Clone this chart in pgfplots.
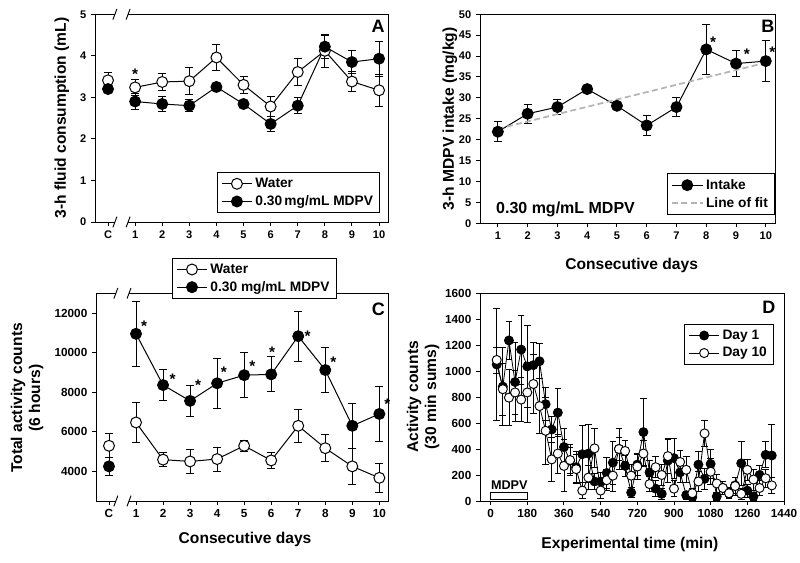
\documentclass[border=0pt]{standalone}
\usepackage{pgfplots}
\pgfplotsset{compat=1.18}
\usepackage{pgfplotstable}
\usepackage{fontspec}
\setmainfont{Liberation Sans}

\pgfplotstableread{
x y e
0 3.41 0.20
}\Awaterc
\pgfplotstableread{
x y e
1 3.24 0.20
2 3.37 0.21
3 3.39 0.32
4 3.96 0.32
5 3.30 0.20
6 2.78 0.24
7 3.61 0.33
8 4.12 0.40
9 3.38 0.25
10 3.17 0.39
}\Awater
\pgfplotstableread{
x y e
0 3.20 0.08
}\Amdpvc
\pgfplotstableread{
x y e
1 2.90 0.20
2 2.84 0.19
3 2.80 0.14
4 3.25 0.05
5 2.84 0.05
6 2.36 0.19
7 2.80 0.19
8 4.22 0.28
9 3.85 0.27
10 3.93 0.42
}\Amdpv
\pgfplotstableread{
x y e
1 21.9 2.4
2 26.2 2.3
3 27.8 1.8
4 32.1 0.5
5 28.1 0.5
6 23.4 2.3
7 27.8 2.3
8 41.6 6.0
9 38.2 3.1
10 38.8 4.9
}\Bintake
\pgfplotstableread{
x y
1 22.6
10 38.4
}\Bfit
\pgfplotstableread{
x y e
0 5290 600
}\Cwaterc
\pgfplotstableread{
x y e
1 6470 1000
2 4590 340
3 4500 620
4 4620 610
5 5290 270
6 4550 420
7 6300 840
8 5170 670
9 4250 920
10 3670 720
}\Cwater
\pgfplotstableread{
x y e
0 4250 450
}\Cmdpvc
\pgfplotstableread{
x y e
1 10950 1640
2 8360 800
3 7560 770
4 8450 1260
5 8860 1130
6 8900 880
7 10830 1270
8 9120 1140
9 6300 1140
10 6900 1370
}\Cmdpv
\pgfplotstableread{
x y e
30 1050 430
60 880 300
90 1235 145
120 915 305
150 1165 265
180 1035 315
210 1045 175
240 1075 135
270 745 125
300 550 100
330 680 185
360 415 140
390 310 100
420 260 120
450 360 220
480 365 225
510 150 60
540 150 70
570 215 120
600 295 165
630 400 160
660 270 80
690 65 40
720 280 80
750 530 260
780 220 90
810 95 60
840 55 40
870 310 170
900 330 155
930 220 80
960 45 30
990 30 25
1020 280 100
1050 170 80
1080 285 115
1110 35 30
1140 100 50
1170 65 40
1200 120 60
1230 290 170
1260 80 50
1290 35 30
1320 200 70
1350 355 100
1380 350 240
}\Dday
\pgfplotstableread{
x y e
30 1085 100
60 860 200
90 795 215
120 835 170
150 780 170
180 835 230
210 900 230
240 730 210
270 540 260
300 320 170
330 365 150
360 270 200
390 315 120
420 245 110
450 80 60
480 180 90
510 405 150
540 80 60
570 160 80
600 195 120
630 400 90
660 385 80
690 195 90
720 265 100
750 365 100
780 130 60
810 260 80
840 200 80
870 345 130
900 95 60
930 300 90
960 240 100
990 60 40
1020 150 80
1050 520 100
1080 225 100
1110 135 70
1140 100 50
1170 60 40
1200 115 70
1230 55 40
1260 240 80
1290 165 80
1320 100 60
1350 175 70
1380 120 60
}\Dten

\pgfplotsset{
  panel/.style={
    scale only axis, anchor=south west, clip=false,
    axis line style={line width=0.7pt},
    tick align=outside, tick pos=left,
    major tick length=3pt,
    tick style={line width=0.7pt, black},
    tick label style={font=\fontsize{8.3}{9.5}\selectfont\bfseries},
    /pgf/number format/assume math mode=true,
    /pgf/number format/1000 sep={},
    scaled y ticks=false, scaled x ticks=false,
    label style={font=\fontsize{11.7}{13.5}\selectfont\bfseries},
    legend style={font=\fontsize{10.3}{12}\selectfont\bfseries, draw=black, line width=0.7pt,
      inner xsep=3pt, inner ysep=2pt, row sep=0.5pt},
    legend cell align=left,
    legend image code/.code={\draw[mark repeat=2,mark phase=2,##1] plot coordinates {(0pt,0pt) (11.5pt,0pt) (23pt,0pt)};},
    error bars/error bar style={line width=0.7pt, black, solid},
    error bars/error mark options={rotate=90, mark size=3pt, line width=0.7pt, black},
  },
  bigticks/.style={tick label style={font=\fontsize{8.8}{10}\selectfont\bfseries}},
  openm/.style={black, line width=0.75pt, mark=*, mark size=4.1pt, mark options={fill=white, draw=black, solid, line width=0.75pt}},
  fillm/.style={black, line width=0.75pt, mark=*, mark size=4.1pt, mark options={fill=black, draw=black, solid}},
}
\newcommand{\brk}{%
  \draw[white, line width=2pt] (rel axis cs:0.068,0) -- (rel axis cs:0.113,0);
  \draw[white, line width=2pt] (rel axis cs:0.068,1) -- (rel axis cs:0.113,1);
  \draw[line width=0.7pt] (rel axis cs:0.068,0) ++(-1.5pt,-4pt) -- ++(3pt,8pt);
  \draw[line width=0.7pt] (rel axis cs:0.113,0) ++(-1.5pt,-4pt) -- ++(3pt,8pt);
  \draw[line width=0.7pt] (rel axis cs:0.068,1) ++(-1.5pt,-4pt) -- ++(3pt,8pt);
  \draw[line width=0.7pt] (rel axis cs:0.113,1) ++(-1.5pt,-4pt) -- ++(3pt,8pt);
}
\newcommand{\st}{\fontsize{11.5}{12}\selectfont\bfseries}
\newcommand{\letter}{\fontsize{13.5}{14}\selectfont\bfseries}

\begin{document}
\begin{tikzpicture}
\useasboundingbox (0,0) rectangle (600pt,422.25pt);

% ---------------- A
\begin{axis}[panel, at={(71.25pt,255.75pt)}, width=219.75pt, height=155.8pt,
  xmin=-0.48, xmax=10.33, ymin=0, ymax=5,
  xtick={0,...,10}, xticklabels={C,1,2,3,4,5,6,7,8,9,10}, ytick={0,...,5},
  ylabel={3-h fluid consumption (mL)},
  ylabel style={at={(axis description cs:-0.113,0.5)}, anchor=center},
  legend style={at={(0.973,0.042)}, anchor=south east}]
\addplot[openm, forget plot, error bars/.cd, y dir=both, y explicit] table[x=x,y=y,y error=e] {\Awaterc};
\addplot[fillm, forget plot, error bars/.cd, y dir=both, y explicit] table[x=x,y=y,y error=e] {\Amdpvc};
\addplot[openm, error bars/.cd, y dir=both, y explicit] table[x=x,y=y,y error=e] {\Awater};
\addlegendentry{Water}
\addplot[fillm, error bars/.cd, y dir=both, y explicit] table[x=x,y=y,y error=e] {\Amdpv};
\addlegendentry{0.30\,mg/mL MDPV}
\brk
\node[font=\st] at (axis cs:1,3.55) {*};
\node[font=\letter] at (rel axis cs:0.966,0.94) {A};
\end{axis}

% ---------------- B
\begin{axis}[panel, at={(360pt,254.8pt)}, width=221.25pt, height=156.75pt,
  xmin=0.4, xmax=10.31, ymin=0, ymax=50,
  xtick={1,...,10}, ytick={0,5,...,50},
  ylabel={3-h MDPV intake (mg/kg)}, xlabel={Consecutive days},
  ylabel style={at={(axis description cs:-0.102,0.5)}, anchor=center},
  xlabel style={at={(axis description cs:0.514,-0.203)}, anchor=center},
  legend style={at={(1,0.04)}, anchor=south east}]
\addplot[fillm, error bars/.cd, y dir=both, y explicit] table[x=x,y=y,y error=e] {\Bintake};
\addlegendentry{Intake}
\addplot[color={rgb,255:red,180;green,180;blue,180}, line width=1.3pt, dash pattern=on 4.5pt off 2.5pt, no marks] table[x=x,y=y] {\Bfit};
\addlegendentry{Line of fit}
\node[font=\st] at (axis cs:8.23,43.2) {*};
\node[font=\st] at (axis cs:9.36,40.4) {*};
\node[font=\st] at (axis cs:10.22,40.8) {*};
\node[font=\fontsize{12}{13}\selectfont\bfseries] at (rel axis cs:0.29,0.064) {0.30 mg/mL MDPV};
\node[font=\letter] at (rel axis cs:0.976,0.94) {B};
\end{axis}

% ---------------- C
\begin{axis}[panel, bigticks, at={(72pt,46.5pt)}, width=219.2pt, height=155.8pt,
  xmin=-0.48, xmax=10.33, ymin=2500, ymax=13000,
  xtick={0,...,10}, xticklabels={C,1,2,3,4,5,6,7,8,9,10}, ytick={4000,6000,...,12000},
  ylabel={Total activity counts\\(6 hours)}, xlabel={Consecutive days},
  ylabel style={at={(axis description cs:-0.236,0.496)}, anchor=center, align=center},
  xlabel style={at={(axis description cs:0.51,-0.184)}, anchor=center},
  legend style={at={(0.259,1.17)}, anchor=north west}]
\addplot[openm, forget plot, error bars/.cd, y dir=both, y explicit] table[x=x,y=y,y error=e] {\Cwaterc};
\addplot[fillm, forget plot, error bars/.cd, y dir=both, y explicit] table[x=x,y=y,y error=e] {\Cmdpvc};
\addplot[openm, error bars/.cd, y dir=both, y explicit] table[x=x,y=y,y error=e] {\Cwater};
\addlegendentry{Water}
\addplot[fillm, error bars/.cd, y dir=both, y explicit] table[x=x,y=y,y error=e] {\Cmdpv};
\addlegendentry{0.30 mg/mL MDPV}
\brk
\node[font=\st] at (axis cs:1.3,11310) {*};
\node[font=\st] at (axis cs:2.35,8660) {*};
\node[font=\st] at (axis cs:3.3,8330) {*};
\node[font=\st] at (axis cs:4.25,9030) {*};
\node[font=\st] at (axis cs:5.3,9300) {*};
\node[font=\st] at (axis cs:6.03,10000) {*};
\node[font=\st] at (axis cs:7.35,10810) {*};
\node[font=\st] at (axis cs:8.3,9500) {*};
\node[font=\st] at (axis cs:10.3,7370) {*};
\node[font=\letter] at (rel axis cs:0.966,0.923) {C};
\end{axis}

% ---------------- D
\begin{axis}[panel, bigticks, at={(360pt,46.5pt)}, width=228pt, height=156pt,
  xmin=-52, xmax=1440, ymin=0, ymax=1600,
  xtick={0,180,...,1440}, ytick={0,200,...,1600},
  ylabel={Activity counts\\(30 min sums)}, xlabel={Experimental time (min)},
  ylabel style={at={(axis description cs:-0.1875,0.5)}, anchor=center, align=center},
  xlabel style={at={(axis description cs:0.493,-0.21)}, anchor=center},
  error bars/error mark options={rotate=90, mark size=2.5pt, line width=0.6pt, black},
  error bars/error bar style={line width=0.6pt, black},
  legend style={at={(0.967,0.851)}, anchor=north east}]
\draw[line width=0.7pt, fill=white] (axis cs:0,15) rectangle (axis cs:180,65);
\node[font=\fontsize{9.5}{10}\selectfont\bfseries] at (axis cs:92,122) {MDPV};
\addplot[black, line width=0.6pt, mark=*, mark size=3.4pt, mark options={fill=black, draw=black, solid}, error bars/.cd, y dir=both, y explicit] table[x=x,y=y,y error=e] {\Dday};
\addlegendentry{Day 1}
\addplot[black, line width=0.6pt, mark=*, mark size=3.4pt, mark options={fill=white, draw=black, solid, line width=0.7pt}, error bars/.cd, y dir=both, y explicit] table[x=x,y=y,y error=e] {\Dten};
\addlegendentry{Day 10}
\node[font=\letter] at (rel axis cs:0.95,0.933) {D};
\end{axis}
\end{tikzpicture}
\end{document}
